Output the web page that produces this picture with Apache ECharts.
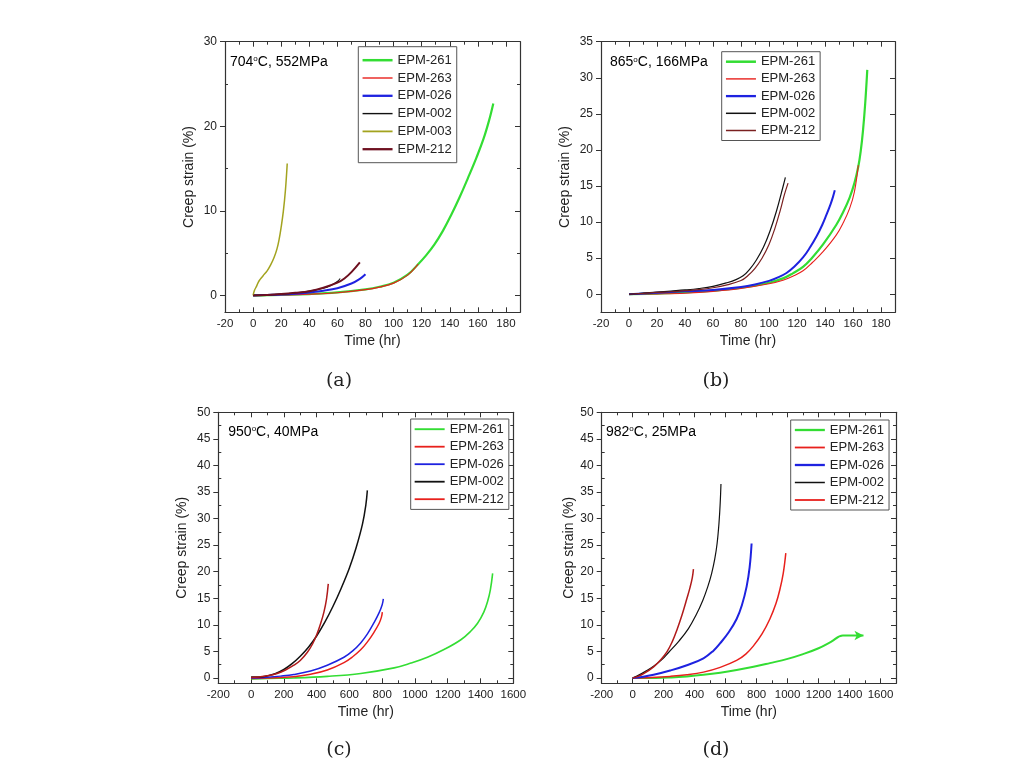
<!DOCTYPE html>
<html><head><meta charset="utf-8">
<script src="https://cdn.jsdelivr.net/npm/echarts@6/dist/echarts.min.js"></script>
<style>html,body{margin:0;padding:0;background:#fff}#c{width:1010px;height:770px}</style>
</head><body><div id="c"></div><script>
// ---------------- DATA ----------------
// (a) 704°C, 552MPa
const a261 = [[0,0],[10,0.02],[20,0.05],[40,0.15],[60,0.35],[80,0.72],[90,1.02],[100,1.5],[110,2.45],[117,3.6],[123,4.7],[129,6.0],[135,7.6],[141,9.5],[147,11.6],[153,13.9],[159,16.3],[164,18.5],[168,20.7],[171,22.7]];
const a263 = [[0,0],[20,0.05],[40,0.15],[60,0.32],[80,0.68],[90,0.98],[100,1.45],[110,2.4],[117.5,3.7]];
const a026 = [[0,0],[10,0.05],[20,0.1],[30,0.2],[40,0.35],[50,0.55],[60,0.85],[70,1.4],[76,1.95],[80,2.5]];
const a002 = [[0,0],[10,0.05],[20,0.15],[30,0.3],[40,0.5],[50,0.85],[55,1.15],[60,1.65],[62,2.0]];
const a003 = [[0,0],[1,0.6],[2.5,1.1],[4.2,1.7],[7,2.3],[10,2.9],[12.5,3.6],[15,4.5],[17,5.5],[18.5,6.6],[20,8.1],[21.5,9.9],[23,12.4],[24.3,15.6]];
const a212 = [[0,0],[10,0.05],[20,0.15],[30,0.3],[40,0.5],[50,0.9],[60,1.5],[65,2.0],[70,2.75],[76,3.9]];
// (b) 865°C, 166MPa
const b261 = [[0,0],[20,0.1],[40,0.25],[60,0.5],[80,0.9],[100,1.6],[110,2.2],[117,2.9],[124.3,3.8],[131,5.1],[138.6,6.9],[148,9.6],[153,11.4],[157.6,13.4],[161,15.4],[163.8,17.7],[165.5,19.8],[167.1,22.6],[168.7,26.4],[170.2,31.1]];
const b263 = [[0,0],[20,0.05],[40,0.15],[60,0.4],[80,0.8],[100,1.45],[110,1.95],[117,2.5],[124.3,3.25],[131,4.4],[138.6,5.9],[148,8.2],[153,9.9],[157.6,11.9],[161,14.2],[163.8,17.9]];
const b026 = [[0,0],[20,0.2],[40,0.4],[60,0.6],[80,1.0],[90,1.35],[100,1.85],[106,2.3],[112.5,2.95],[118,3.8],[124.3,5.1],[129,6.4],[133.9,8.0],[138,9.6],[141,11.0],[144,12.5],[145.7,13.5],[147,14.4]];
const b002 = [[0,0],[10,0.15],[20,0.3],[30,0.45],[40,0.6],[50,0.8],[60,1.1],[70,1.6],[76,2.0],[81.5,2.55],[86,3.4],[91,4.75],[96,6.5],[100.6,8.7],[105.3,11.5],[110,14.9],[111.7,16.2]];
const b212 = [[0,0],[10,0.12],[20,0.25],[30,0.35],[40,0.5],[50,0.65],[60,0.9],[70,1.3],[80,1.9],[85,2.6],[90,3.6],[95,5.0],[100,6.9],[104,9.0],[108,11.6],[111,13.8],[113.6,15.4]];
// (c) 950°C, 40MPa
const c261 = [[0,-0.2],[100,-0.1],[261,0],[465,0.3],[669,0.85],[873,1.9],[975,2.8],[1076,3.9],[1180,5.4],[1280,7.2],[1340,8.8],[1382,10.3],[1420,12.4],[1443,14.4],[1460,16.6],[1474,19.7]];
const c263 = [[0,-0.1],[100,0],[180,0.1],[261,0.25],[363,0.7],[465,1.5],[566.8,2.9],[620,4.0],[668.7,5.3],[710,6.8],[750,8.6],[780,10.2],[795,11.4],[801,12.4]];
const c026 = [[0,0],[100,0.15],[180,0.35],[261,0.65],[363,1.3],[465,2.4],[566.8,3.9],[620,5.1],[668.7,6.6],[710,8.3],[750,10.4],[780,12.2],[800,13.8],[807,14.9]];
const c002 = [[0,0.2],[50,0.2],[100,0.4],[150,0.85],[200,1.6],[250,2.7],[300,4.1],[350,5.8],[400,7.9],[450,10.5],[500,13.5],[550,16.9],[600,20.7],[640,24.4],[680,29.0],[700,32.5],[709.5,35.3]];
const c212 = [[0,0.1],[50,0.2],[100,0.4],[159,0.85],[210,1.5],[261,2.4],[300,3.3],[342.5,4.8],[375,6.4],[403.7,8.4],[425,10.3],[444.4,12.4],[460,14.8],[471,17.7]];
// (d) 982°C, 25MPa
const d261 = [[0,0],[150,0],[250,0.1],[350,0.3],[457,0.6],[565,1.0],[671,1.5],[780,2.1],[885.7,2.8],[1000,3.6],[1100,4.5],[1200,5.6],[1280,6.8],[1357,8.0],[1490,8.0]];
const d263 = [[0,0],[120,0.1],[242,0.3],[350,0.6],[457,1.1],[565,2.0],[671,3.3],[730,4.5],[778.5,6.0],[835,8.3],[885.7,11.1],[925,14],[950,16.6],[972,19.7],[988.6,23.5]];
const d026 = [[0,0],[60,0.2],[135,0.6],[242,1.4],[350,2.4],[457,3.7],[520,5.1],[564,6.5],[620,8.6],[671,11.1],[705,13.7],[735.6,17.2],[755,20.8],[767.7,25.3]];
const d002 = [[0,0],[30,0.4],[80,1.2],[135,2.2],[190,3.5],[231.6,4.8],[300,7.0],[360,9.3],[410,11.9],[452.5,14.6],[485,17.2],[510,19.7],[530,22.4],[545,25.3],[557.6,29.3],[565,32.9],[570,36.5]];
const d212 = [[0,0],[35,0.3],[70.8,0.8],[135,2.1],[180,3.4],[221,4.9],[255,6.8],[285,9.0],[320,12.0],[349.6,14.9],[370,17],[385,18.9],[392.4,20.5]];

// tick labels / tick positions
const xMajorAB = [-20,0,20,40,60,80,100,120,140,160,180];
const xMinorAB = [-10,10,30,50,70,90,110,130,150,170];
const yMajorA = [0,10,20,30];
const yMinorA = [5,15,25];
const yMajorB = [0,5,10,15,20,25,30,35];
const yMinorB = [];
const xMajorCD = [-200,0,200,400,600,800,1000,1200,1400,1600];
const xMinorCD = [-100,100,300,500,700,900,1100,1300,1500];
const yMajorCD = [0,5,10,15,20,25,30,35,40,45,50];
const yMinorCD = [2.5,7.5,12.5,17.5,22.5,27.5,32.5,37.5,42.5,47.5];
const conditions = [['704','C, 552MPa'],['865','C, 166MPa'],['950','C, 40MPa'],['982','C, 25MPa']];
const captions = ['(a)','(b)','(c)','(d)'];

// ---------------- STYLE / LAYOUT ----------------
const FONT = '"Liberation Sans", Arial, sans-serif';
const C = {g:'#33dd33', r:'#e8201c', b:'#1e22e0', k:'#111111', o:'#a3a31f', m:'#6e1020', br:'#7a2020', dr:'#b01a1a'};
const panels = [
  {grid:{left:225, top:41.7, width:295, height:270.6}, x:[-20,190], y:[-2,30], xMaj:xMajorAB, xMin:xMinorAB, yMaj:yMajorA, yMin:yMinorA,
   ser:[['EPM-261',a261,C.g,2.2,C.g],['EPM-263',a263,C.r,1.1,C.r],['EPM-026',a026,C.b,2,C.b],['EPM-002',a002,C.k,1.1,C.k],['EPM-003',a003,C.o,1.5,C.o],['EPM-212',a212,C.m,2,C.m]],
   leg:{left:358.3, top:46.7, gap:3.8, pad:[6.5,5,6.5,3]}, ann:[230,61.7], cap:[339,381]},
  {grid:{left:601, top:41.7, width:294, height:270.6}, x:[-20,190], y:[-2.5,35], xMaj:xMajorAB, xMin:xMinorAB, yMaj:yMajorB, yMin:yMinorB,
   ser:[['EPM-261',b261,C.g,2.2,C.g],['EPM-263',b263,C.r,1.1,C.r],['EPM-026',b026,C.b,2,C.b],['EPM-002',b002,C.k,1.2,C.k],['EPM-212',b212,C.br,1.2,C.br]],
   leg:{left:721.7, top:51.7, gap:3.2, pad:[3,5,3,3]}, ann:[610,62.3], cap:[716,381]},
  {grid:{left:218.3, top:412.3, width:295, height:271}, x:[-200,1600], y:[-1,50], xMaj:xMajorCD, xMin:xMinorCD, yMaj:yMajorCD, yMin:yMinorCD,
   ser:[['EPM-261',c261,C.g,1.6,C.g],['EPM-263',c263,C.r,1.5,C.r],['EPM-026',c026,C.b,1.5,C.b],['EPM-002',c002,C.k,1.5,C.k],['EPM-212',c212,C.dr,1.5,C.r]],
   leg:{left:410.7, top:419, gap:3.5, pad:[3.2,5,3.2,3]}, ann:[228.3,431.7], cap:[339,750]},
  {grid:{left:601.7, top:412.3, width:294.3, height:271}, x:[-200,1700], y:[-1,50], xMaj:xMajorCD, xMin:xMinorCD, yMaj:yMajorCD, yMin:yMinorCD,
   ser:[['EPM-261',d261,C.g,2,C.g],['EPM-263',d263,C.r,1.5,C.r],['EPM-026',d026,C.b,2,C.b],['EPM-002',d002,C.k,1.2,C.k],['EPM-212',d212,C.dr,1.5,C.r]],
   leg:{left:790.7, top:420, gap:3.5, pad:[3,5,3,3]}, ann:[606,431.7], cap:[716,750]}
];

const LINE = {color:'#333', width:1.2};
function axis(kind, gi, rng, ticks, opts) {
  const a = {
    type:'value', gridIndex:gi, min:rng[0], max:rng[1], position:opts.pos,
    axisLine:{show:!!opts.line, onZero:false, lineStyle:LINE},
    axisTick:{show:ticks.length>0, inside:opts.inside, length:opts.len, customValues:ticks, lineStyle:{color:'#333', width:1}},
    axisLabel:{show:!!opts.labels},
    splitLine:{show:false}, minorTick:{show:false}, silent:true
  };
  if (opts.labels) {
    a.axisLabel = {show:true, customValues:ticks, fontFamily:FONT, fontSize:kind==='x'?11.5:12, color:'#222', margin:kind==='x'?6:8,
      showMinLabel:true, showMaxLabel:true, hideOverlap:false, formatter:v => String(v)};
  }
  if (opts.name) {
    a.name = opts.name; a.nameLocation = 'middle'; a.nameGap = opts.nameGap;
    a.nameTextStyle = {fontFamily:FONT, fontSize:14, color:'#222'};
  }
  return a;
}

const option = {backgroundColor:'#fff', animation:false, grid:[], xAxis:[], yAxis:[], series:[], legend:[], graphic:[]};
panels.forEach((p, gi) => {
  option.grid.push(Object.assign({containLabel:false}, p.grid));
  option.xAxis.push(axis('x', gi, p.x, p.xMaj, {pos:'bottom', line:true, inside:true, len:5, labels:true, name:'Time (hr)', nameGap:22}));
  option.xAxis.push(axis('x', gi, p.x, p.xMin, {pos:'bottom', inside:true, len:3}));
  option.xAxis.push(axis('x', gi, p.x, p.xMaj, {pos:'top', line:true, inside:true, len:5}));
  option.xAxis.push(axis('x', gi, p.x, p.xMin, {pos:'top', inside:true, len:3}));
  option.yAxis.push(axis('y', gi, p.y, p.yMaj, {pos:'left', line:true, inside:false, len:5, labels:true, name:'Creep strain (%)', nameGap:gi===3?25:29}));
  option.yAxis.push(axis('y', gi, p.y, p.yMin, {pos:'left', inside:true, len:3}));
  option.yAxis.push(axis('y', gi, p.y, p.yMaj, {pos:'right', line:true, inside:true, len:5}));
  option.yAxis.push(axis('y', gi, p.y, p.yMin, {pos:'right', inside:true, len:3}));
  const legData = [];
  p.ser.forEach((s, si) => {
    let data = s[1].map(v => v.slice());
    if (gi === 3 && s[0] === 'EPM-261') {
      const last = data.pop();
      data.push({value:last, symbol:'arrow', symbolSize:[7,9], symbolRotate:-90, itemStyle:{color:s[2]}});
    }
    option.series.push({
      type:'line', name:s[0], xAxisIndex:gi*4, yAxisIndex:gi*4, data:data,
      symbol:'none', smooth:0.4, silent:true, z:2+si,
      lineStyle:{color:s[2], width:s[3]}, itemStyle:{color:s[2]}, emphasis:{disabled:true}
    });
    legData.push({name:s[0], lineStyle:{color:s[4], width:s[3]+0.3}, itemStyle:{color:s[4], opacity:0, borderWidth:0}});
  });
  option.legend.push({
    orient:'vertical', left:p.leg.left, top:p.leg.top, itemGap:p.leg.gap, itemWidth:30, itemHeight:14,
    padding:p.leg.pad, borderColor:'#555', borderWidth:1, backgroundColor:'#fff', selectedMode:false,
    itemStyle:{opacity:0, borderWidth:0},
    textStyle:{fontFamily:FONT, fontSize:13, color:'#222', lineHeight:14}, data:legData, z:10
  });
  option.graphic.push({type:'text', x:p.ann[0], y:p.ann[1], z:20, style:{
    text:'{n|' + conditions[gi][0] + '}{s|o}{n|' + conditions[gi][1] + '}',
    verticalAlign:'middle', rich:{n:{fontFamily:FONT, fontSize:14, color:'#222'}, s:{fontFamily:FONT, fontSize:8, color:'#222', verticalAlign:'top', padding:[0,0,6,0]}}
  }});
  option.graphic.push({type:'text', x:p.cap[0], y:p.cap[1], z:20, style:{
    text:captions[gi], align:'center', verticalAlign:'middle', font:'19px "DejaVu Serif", serif', fill:'#222'
  }});
});

const chart = echarts.init(document.getElementById('c'), null, {renderer:'canvas'});
chart.setOption(option);
</script></body></html>
